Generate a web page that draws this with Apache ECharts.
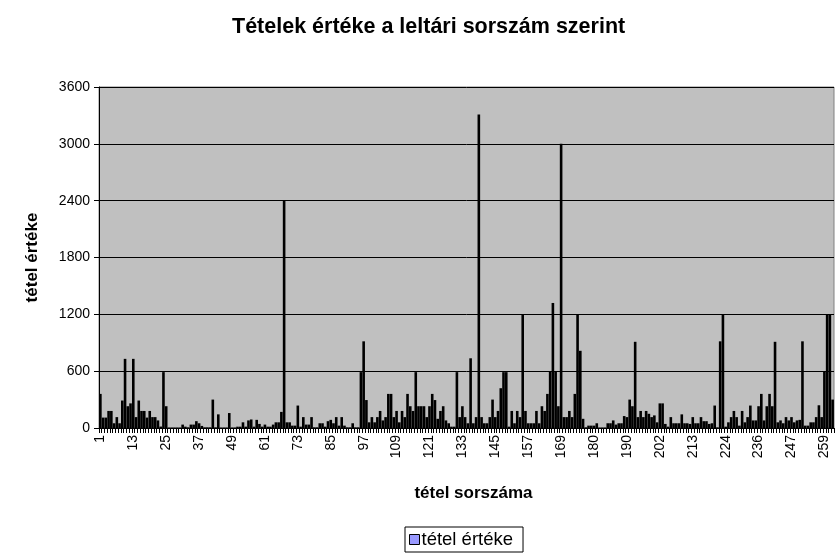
<!DOCTYPE html>
<html>
<head>
<meta charset="utf-8">
<title>Tételek értéke</title>
<script src="https://cdn.jsdelivr.net/npm/echarts@6/dist/echarts.min.js"></script>
<style>
  html, body { margin: 0; padding: 0; background: #fff; }
  #main { width: 839px; height: 555px; }
</style>
</head>
<body>
<div id="main"></div>
<script type="text/javascript">
    // sorszámok 1..169, utána a lista nem folytonos
    var headCount = 169;
    var tailLabels = ['170','171','172','173','174','175','176','177','178','178/a','179','180',
        '181','182','182/a','183','184','185','186','186/a','187','188','189','190',
        '191','192','193','194','195','196','197','198','199','200','201','202',
        '203','204','205','206','206/a','207','208','209','210','211','212','213',
        '214','215','216','217','218','218/a','219','220','221','222','223','224',
        '225','226','227','228','229','230','231','232','233','234','235','236',
        '237','238','239','240','241','241/a','242','243','244','245','246','247',
        '248','249','250','251','252','253','254','255','256','257','258','259',
        '260','261','262'];

    // tétel értékek (az ábráról leolvasva)
    var values1 = [360,110,110,180,180,50,115,50,290,730,230,260,730,115,290,180,180,110,180,115,
        115,80,15,590,230,5,5,5,5,5,36,14,7,36,36,72,50,22,7,7,
        7,300,7,144,5,5,5,158,5,5];
    var values2 = [14,14,60,14,80,90,14,86,43,14,36,14,14,36,60,60,170,2400,60,60,
        25,25,237,14,115,36,36,115,7,7,50,50,14,72,86,50,115,25,115,25,
        7,7,50,7,7,590,915,295,60,115];
    var values3 = [60,115,180,80,115,360,360,115,180,60,180,115,360,230,180,590,230,230,230,115,
        230,360,295,97,180,230,80,50,14,14,590,115,230,115,50,736,50,115,3310,115,
        50,50,115,300,115,180,420,590,590,14];
    var values4 = [180,50,180,115,1200,180,50,50,50,180,50,230,180,360,600,1320,600,230,3000,115,
        115,180,115,360,1200,815,97,7,25,25,25,50,5,5,5,50,50,80,36,50,
        50,126,115,300,230,910,115,180,115,180];
    var values5 = [150,115,133,60,260,260,43,14,115,50,50,50,144,50,50,43,115,50,50,115,
        72,72,43,50,237,7,915,1200,14,60,115,180,115,25,180,60,115,237,80,80,
        230,360,80,230,360,230,910,60,80,50];
    var values6 = [115,80,115,60,80,86,915,25,25,60,60,115,240,115,600,1200,1200,300];

    var categories = [];
    for (var i = 1; i <= headCount; i++) {
        categories.push(String(i));
    }
    categories = categories.concat(tailLabels);

    var values = values1.concat(values2, values3, values4, values5, values6);

    var myChart = echarts.init(document.getElementById('main'));

    var option = {
        backgroundColor: '#ffffff',
        animation: false,
        textStyle: {
            fontFamily: 'Liberation Sans, Arial, sans-serif'
        },
        title: {
            text: 'Tételek értéke a leltári sorszám szerint',
            left: 232,
            top: 16,
            padding: 0,
            textStyle: {
                fontSize: 21.5,
                fontWeight: 'bold',
                color: '#000'
            }
        },
        legend: {
            left: 405,
            top: 527,
            padding: [3, 10, 3, 4],
            borderColor: '#000',
            borderWidth: 1,
            icon: 'rect',
            itemWidth: 10,
            itemHeight: 10,
            itemGap: 4,
            textStyle: {
                fontSize: 18.5,
                color: '#000',
                padding: [0, 0, 0, -3]
            },
            data: [{
                name: 'tétel értéke',
                itemStyle: {
                    color: '#9999ff',
                    borderColor: '#000',
                    borderWidth: 1
                }
            }]
        },
        grid: {
            left: 99,
            right: 5,
            top: 87,
            bottom: 127,
            show: true,
            backgroundColor: '#c0c0c0',
            borderColor: '#808080',
            borderWidth: 1
        },
        xAxis: {
            type: 'category',
            data: categories,
            name: 'tétel sorszáma',
            nameLocation: 'middle',
            nameGap: 57,
            nameTextStyle: {
                fontSize: 17,
                fontWeight: 'bold',
                color: '#000',
                padding: [0, 0, 0, 14]
            },
            axisLine: {
                lineStyle: { color: '#000', width: 1 }
            },
            axisTick: {
                show: true,
                interval: 0,
                length: 5,
                lineStyle: { color: '#000' }
            },
            axisLabel: {
                interval: 11,
                rotate: 90,
                fontSize: 14,
                color: '#000',
                margin: 7
            },
            splitLine: { show: false }
        },
        yAxis: {
            type: 'value',
            min: 0,
            max: 3600,
            interval: 600,
            name: 'tétel értéke',
            nameLocation: 'middle',
            nameGap: 58,
            nameTextStyle: {
                fontSize: 17,
                fontWeight: 'bold',
                color: '#000'
            },
            axisLine: {
                show: true,
                lineStyle: { color: '#000' }
            },
            axisTick: {
                show: true,
                length: 5,
                lineStyle: { color: '#000' }
            },
            axisLabel: {
                fontSize: 14,
                color: '#000',
                margin: 9,
                formatter: function (v) { return String(v); }
            },
            splitLine: {
                lineStyle: { color: '#000', width: 1 }
            }
        },
        series: [
            {
                name: 'tétel értéke',
                type: 'bar',
                data: values,
                barCategoryGap: '5%',
                itemStyle: {
                    color: '#000'
                }
            }
        ]
    };

    myChart.setOption(option);
</script>
</body>
</html>
